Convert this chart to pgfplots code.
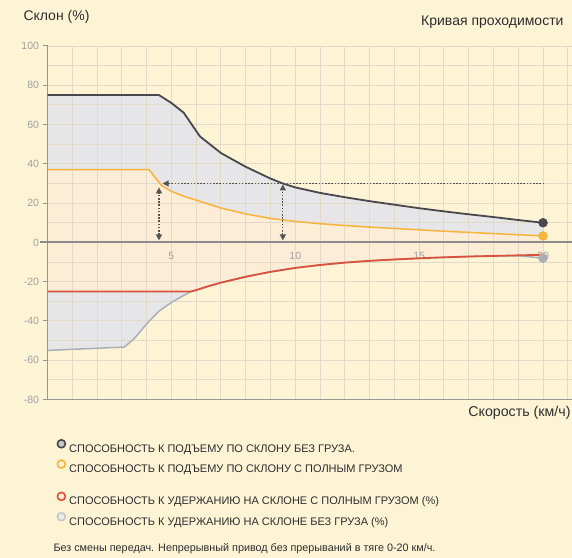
\documentclass[border=0pt]{standalone}
\usepackage{fontspec}
\setmainfont{Liberation Sans}
\usepackage{graphicx}
\usepackage{pgfplots}
\pgfplotsset{compat=1.18}
\usetikzlibrary{arrows.meta}
\definecolor{bgc}{RGB}{253,244,214}
\definecolor{gridc}{RGB}{226,217,200}
\definecolor{grayfill}{RGB}{230,230,232}
\definecolor{peach}{RGB}{253,236,214}
\definecolor{darkln}{RGB}{72,72,76}
\definecolor{yelln}{RGB}{245,180,60}
\definecolor{redln}{RGB}{218,82,62}
\definecolor{grayln}{RGB}{172,174,182}
\definecolor{axisgray}{RGB}{150,150,150}
\definecolor{zerogray}{RGB}{140,140,140}
\definecolor{ticktext}{RGB}{160,160,160}
\definecolor{txt}{RGB}{45,45,45}
\definecolor{arrc}{RGB}{85,85,85}
\begin{document}
\begin{tikzpicture}[x=1pt,y=1pt]
\path (0,0) rectangle (572,557);
\node[anchor=west, text=txt, font=\fontsize{14}{16}\selectfont] at (20,540) {Склон (\%)};
\node[anchor=east, text=txt, font=\fontsize{14}{16}\selectfont] at (567,535) {Кривая проходимости};
\node[anchor=east, text=txt, font=\fontsize{14.2}{16}\selectfont] at (574,144) {Скорость (км/ч)};
\node[anchor=west, text=txt, font=\fontsize{10.8}{12}\selectfont] at (50,8) {Без смены передач. Непрерывный привод без прерываний в тяге 0-20 км/ч.};
\begin{axis}[
  at={(47.5pt,157.5pt)}, anchor=south west,
  scale only axis, width=524.5pt, height=353.5pt,
  xmin=0, xmax=21.17, ymin=-80, ymax=100,
  clip=false, set layers,
  axis x line=middle, axis y line=left,
  x axis line style={-, line width=2pt, zerogray},
  y axis line style={-, line width=1.3pt, axisgray},
  xtick={5,10,15,20}, xticklabels={5,10,15,20},
  minor xtick={1,2,...,21},
  ytick={-80,-60,...,100}, yticklabels={{-80},{-60},{-40},{-20},0,20,40,60,80,100},
  minor ytick={-70,-50,...,90},
  grid=both,
  major grid style={gridc, line width=0.9pt},
  minor grid style={gridc, line width=0.9pt},
  xtick style={draw=none}, 
  ytick style={axisgray, line width=1pt},
  tick align=outside, major tick length=5pt, minor tick length=0pt,
  xticklabel style={font=\fontsize{10.5}{11}\selectfont, text=ticktext, yshift=-1pt},
  yticklabel style={font=\fontsize{10.5}{11}\selectfont, text=ticktext},
  legend cell align=left,
  legend style={draw=none, fill=none, at={(axis cs:0.35,-100)}, anchor=north west,
    font=\fontsize{11}{12}\selectfont, text=txt, row sep=5pt, inner sep=0pt,
    nodes={inner sep=0pt, text height=11pt, text depth=2pt}},
]
\begin{pgfonlayer}{axis background}
\fill[bgc] (axis cs:-2.5,-165) rectangle (axis cs:22,128);
\end{pgfonlayer}
% fills
\addplot[forget plot, on layer=axis background, fill=grayfill, draw=none] coordinates {
 (0,0)(0,75)(4.5,75)(5,71)(5.5,66)(6.15,54)(7,45.5)(8,38.5)(9,32.5)(9.5,30)(10,28)(11,25.2)(12,23)(13,21)(14,19.2)(15,17.4)(16,15.8)(17,14.3)(18,12.9)(19,11.4)(20,10)(20,0)} -- cycle;
\addplot[forget plot, on layer=axis background, fill=peach, draw=none] coordinates {
 (0,0)(0,37)(4.1,37)(4.6,29)(5,26)(5.5,23.5)(6,21.5)(7,17.5)(8,14.5)(9,12.2)(10,10.7)(11,9.5)(12,8.6)(13,7.8)(14,7.1)(15,6.4)(16,5.7)(17,5.1)(18,4.5)(19,3.9)(20,3.3)(20,0)} -- cycle;
\addplot[forget plot, on layer=axis background, fill=grayfill, draw=none] coordinates {
 (0,0)(0,-55)(3.1,-53.3)(3.5,-49)(4,-41.5)(4.5,-35)(5,-30.6)(5.5,-27)(5.8,-25)(6,-24.3)(6.5,-22.3)(7,-20.5)(8,-17.5)(9,-15)(10,-13)(11,-11.5)(12,-10.3)(13,-9.4)(14,-8.7)(15,-8.1)(16,-7.6)(17,-7.2)(18,-6.9)(19,-6.6)(20,-6.3)(20,0)} -- cycle;
\addplot[forget plot, on layer=axis background, fill=peach, draw=none] coordinates {
 (0,0)(0,-25)(5.8,-25)(6,-24.3)(6.5,-22.3)(7,-20.5)(8,-17.5)(9,-15)(10,-13)(11,-11.5)(12,-10.3)(13,-9.4)(14,-8.7)(15,-8.1)(16,-7.6)(17,-7.2)(18,-6.9)(19,-6.6)(20,-6.3)(20,0)} -- cycle;
% bottom line
\draw[axisgray, line width=1.3pt] (axis cs:-0.2,-80) -- (axis cs:21.17,-80);
\draw[zerogray, line width=2pt] (axis cs:-0.3,0) -- (axis cs:0,0);
% lines
\addplot[forget plot, grayln, line width=1.5pt] coordinates {
 (0,-55)(3.1,-53.3)(3.5,-49)(4,-41.5)(4.5,-35)(5,-30.6)(5.5,-27)(5.8,-25)(6,-24.3)(6.5,-22.3)(7,-20.5)(8,-17.5)(9,-15)(10,-13)(11,-11.5)(12,-10.3)(13,-9.4)(14,-8.7)(15,-8.1)(16,-7.6)(17,-7.2)(18,-6.9)(19,-6.8)(20,-8)};
\addplot[forget plot, redln, line width=1.8pt] coordinates {
 (0,-25)(5.8,-25)(6,-24.3)(6.5,-22.3)(7,-20.5)(8,-17.5)(9,-15)(10,-13)(11,-11.5)(12,-10.3)(13,-9.4)(14,-8.7)(15,-8.1)(16,-7.6)(17,-7.2)(18,-6.9)(19,-6.6)(20,-6.3)};
\addplot[forget plot, yelln, line width=1.5pt] coordinates {
 (0,37)(4.1,37)(4.6,29)(5,26)(5.5,23.5)(6,21.5)(7,17.5)(8,14.5)(9,12.2)(10,10.7)(11,9.5)(12,8.6)(13,7.8)(14,7.1)(15,6.4)(16,5.7)(17,5.1)(18,4.5)(19,3.9)(20,3.3)};
\addplot[forget plot, darkln, line width=1.8pt] coordinates {
 (0,75)(4.5,75)(5,71)(5.5,66)(6.15,54)(7,45.5)(8,38.5)(9,32.5)(9.5,30)(10,28)(11,25.2)(12,23)(13,21)(14,19.2)(15,17.4)(16,15.8)(17,14.3)(18,12.9)(19,11.4)(20,10)};
% end markers
\addplot[forget plot, only marks, mark=*, mark size=4.5pt, color=grayln] coordinates {(20,-8)};
\addplot[forget plot, only marks, mark=*, mark size=4.5pt, color=yelln] coordinates {(20,3.3)};
\addplot[forget plot, only marks, mark=*, mark size=4.5pt, color=darkln] coordinates {(20,10)};
% arrows
\draw[arrc, line width=1.2pt, dash pattern=on 1.6pt off 1.6pt, -{Triangle[width=6pt,length=6pt]}] (axis cs:20.05,30) -- (axis cs:4.65,30);
\draw[arrc, line width=1.2pt, dash pattern=on 1.6pt off 1.6pt, {Triangle[width=6pt,length=6pt]}-{Triangle[width=6pt,length=6pt]}] (axis cs:4.5,1) -- (axis cs:4.5,28);
\draw[arrc, line width=1.2pt, dash pattern=on 1.6pt off 1.6pt, {Triangle[width=6pt,length=6pt]}-{Triangle[width=6pt,length=6pt]}] (axis cs:9.5,1) -- (axis cs:9.5,29.5);
% legend
\addlegendimage{legend image code/.code={\draw[draw=darkln, fill=black!22, line width=1.6pt] (5pt,4pt) circle[radius=4pt];}}
\addlegendentry{\hspace{3pt}СПОСОБНОСТЬ К ПОДЪЕМУ ПО СКЛОНУ БЕЗ ГРУЗА.}
\addlegendimage{legend image code/.code={\draw[draw=yelln, fill=bgc, line width=1.6pt] (5pt,4pt) circle[radius=4pt];}}
\addlegendentry{\hspace{3pt}СПОСОБНОСТЬ К ПОДЪЕМУ ПО СКЛОНУ С ПОЛНЫМ ГРУЗОМ}
\addlegendimage{empty legend}
\addlegendentry[text height=7pt, text depth=0pt]{}
\addlegendimage{legend image code/.code={\draw[draw=redln, fill=peach, line width=1.6pt] (5pt,4pt) circle[radius=4pt];}}
\addlegendentry{\hspace{3pt}СПОСОБНОСТЬ К УДЕРЖАНИЮ НА СКЛОНЕ С ПОЛНЫМ ГРУЗОМ (\%)}
\addlegendimage{legend image code/.code={\draw[draw=black!22, fill=black!8, line width=1.6pt] (5pt,4pt) circle[radius=4pt];}}
\addlegendentry{\hspace{3pt}СПОСОБНОСТЬ К УДЕРЖАНИЮ НА СКЛОНЕ БЕЗ ГРУЗА (\%)}
\end{axis}
\pgfresetboundingbox
\path[use as bounding box] (0,0) rectangle (572,557);
\end{tikzpicture}
\end{document}
